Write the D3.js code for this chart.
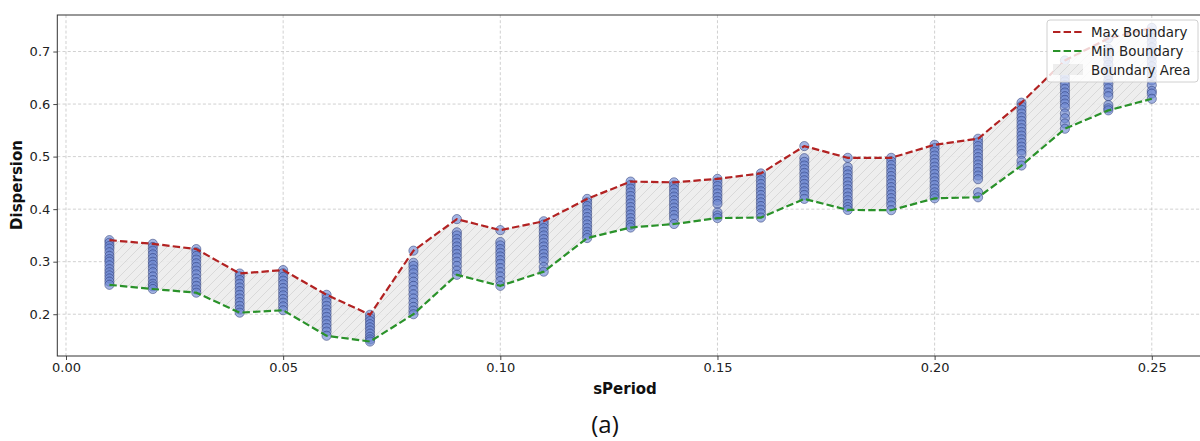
<!DOCTYPE html>
<html>
<head>
<meta charset="utf-8">
<script src="https://cdn.jsdelivr.net/npm/d3@7/dist/d3.min.js"></script>
<style>
  html, body { margin: 0; padding: 0; background: #fff; }
  svg { display: block; font-family: "DejaVu Sans", sans-serif; }
</style>
</head>
<body>
<svg id="chart" width="1200" height="441"></svg>
<script>
// ---- data ----
const periods = [0.01,0.02,0.03,0.04,0.05,0.06,0.07,0.08,0.09,0.10,0.11,0.12,0.13,0.14,0.15,0.16,0.17,0.18,0.19,0.20,0.21,0.22,0.23,0.24,0.25];
const dispersionSamples = [
  [0.341,0.336,0.330,0.325,0.318,0.311,0.305,0.300,0.293,0.286,0.280,0.274,0.268,0.262,0.256],
  [0.334,0.328,0.321,0.314,0.307,0.300,0.294,0.287,0.280,0.272,0.265,0.258,0.253,0.248],
  [0.324,0.318,0.311,0.304,0.297,0.290,0.283,0.276,0.268,0.261,0.254,0.247,0.241],
  [0.2775,0.272,0.265,0.258,0.251,0.244,0.237,0.230,0.223,0.216,0.209,0.203],
  [0.284,0.278,0.271,0.264,0.257,0.250,0.243,0.236,0.229,0.222,0.215,0.2076],
  [0.237,0.230,0.223,0.216,0.209,0.202,0.195,0.188,0.181,0.174,0.167,0.159],
  [0.199,0.193,0.187,0.181,0.175,0.169,0.163,0.157,0.152,0.148],
  [0.321,0.298,0.292,0.285,0.278,0.270,0.262,0.254,0.246,0.238,0.230,0.222,0.214,0.207,0.200],
  [0.381,0.356,0.350,0.343,0.336,0.329,0.322,0.315,0.308,0.300,0.292,0.283,0.275],
  [0.360,0.3375,0.331,0.324,0.317,0.310,0.303,0.296,0.288,0.280,0.272,0.263,0.254],
  [0.377,0.371,0.364,0.357,0.350,0.343,0.336,0.329,0.322,0.315,0.308,0.301,0.290,0.281],
  [0.4195,0.413,0.406,0.399,0.392,0.385,0.378,0.371,0.364,0.357,0.351,0.345],
  [0.4525,0.446,0.439,0.432,0.425,0.418,0.411,0.404,0.397,0.390,0.383,0.376,0.370,0.365],
  [0.451,0.445,0.438,0.431,0.424,0.417,0.410,0.403,0.396,0.389,0.382,0.3717],
  [0.4576,0.451,0.444,0.437,0.430,0.423,0.416,0.410,0.394,0.388,0.383],
  [0.468,0.462,0.455,0.448,0.441,0.434,0.427,0.420,0.413,0.406,0.399,0.392,0.384],
  [0.520,0.497,0.490,0.483,0.476,0.469,0.462,0.455,0.448,0.441,0.434,0.427,0.4195],
  [0.4977,0.480,0.473,0.466,0.459,0.452,0.445,0.438,0.431,0.424,0.417,0.410,0.404,0.3985],
  [0.4977,0.491,0.484,0.477,0.470,0.463,0.456,0.449,0.442,0.435,0.428,0.421,0.414,0.407,0.398],
  [0.5225,0.516,0.509,0.502,0.495,0.488,0.481,0.474,0.467,0.460,0.453,0.446,0.439,0.432,0.426,0.4206],
  [0.534,0.527,0.520,0.513,0.506,0.499,0.492,0.485,0.478,0.471,0.464,0.457,0.432,0.4225],
  [0.6027,0.596,0.589,0.582,0.575,0.568,0.561,0.554,0.547,0.540,0.533,0.526,0.519,0.512,0.505,0.492,0.483],
  [0.683,0.664,0.657,0.650,0.643,0.636,0.629,0.622,0.615,0.608,0.601,0.594,0.582,0.573,0.563,0.553],
  [0.725,0.705,0.695,0.685,0.675,0.665,0.655,0.645,0.638,0.630,0.622,0.615,0.598,0.592,0.588],
  [0.745,0.735,0.726,0.717,0.708,0.699,0.690,0.681,0.672,0.663,0.654,0.645,0.636,0.625,0.620,0.610]
];
const xTicks = [0.00,0.05,0.10,0.15,0.20,0.25];
const yTicks = [0.2,0.3,0.4,0.5,0.6,0.7];
const legendLabels = ["Max Boundary","Min Boundary","Boundary Area"];

// ---- derived ----
const maxBoundary = dispersionSamples.map(s => d3.max(s));
const minBoundary = dispersionSamples.map(s => d3.min(s));
const bounds = periods.map((p, i) => ({p, max: maxBoundary[i], min: minBoundary[i]}));
const points = periods.flatMap((p, i) => dispersionSamples[i].map(v => ({p, v})));

// ---- layout ----
const svg = d3.select("#chart");
const L = 57.3, R = 1203.9, T = 15, B = 356;
const x = d3.scaleLinear().domain([-0.002, 0.262]).range([L, R]);
const y = d3.scaleLinear().domain([0.1205, 0.7695]).range([B, T]);

const defs = svg.append("defs");
defs.append("clipPath").attr("id","clip").append("rect")
  .attr("x", L).attr("y", T).attr("width", R - L).attr("height", B - T);
const pat = defs.append("pattern").attr("id","hatch").attr("patternUnits","userSpaceOnUse")
  .attr("width", 9).attr("height", 9);
pat.append("rect").attr("width",9).attr("height",9).attr("fill","#ececec");
pat.append("path").attr("d","M-1,10 L10,-1 M-2,2 L2,-2 M7,11 L11,7")
  .attr("stroke","#d2d2d2").attr("stroke-width",0.9);

// grid
const grid = svg.append("g").attr("clip-path","url(#clip)");
grid.selectAll(".gx").data(xTicks).join("line")
  .attr("x1", d => x(d)).attr("x2", d => x(d)).attr("y1", T).attr("y2", B)
  .attr("stroke","#c4c4c4").attr("stroke-width",0.8).attr("stroke-dasharray","3,2.2");
grid.selectAll(".gy").data(yTicks).join("line")
  .attr("y1", d => y(d)).attr("y2", d => y(d)).attr("x1", L).attr("x2", R)
  .attr("stroke","#c4c4c4").attr("stroke-width",0.8).attr("stroke-dasharray","3,2.2");

const plot = svg.append("g").attr("clip-path","url(#clip)");
// area
plot.append("path").datum(bounds)
  .attr("d", d3.area().x(d => x(d.p)).y0(d => y(d.min)).y1(d => y(d.max)))
  .attr("fill","url(#hatch)").attr("opacity",0.9);

// points
plot.selectAll("circle").data(points).join("circle")
  .attr("cx", d => x(d.p)).attr("cy", d => y(d.v)).attr("r", 4.6)
  .attr("fill","#6a86d2").attr("fill-opacity",0.62)
  .attr("stroke","#22306c").attr("stroke-opacity",0.55).attr("stroke-width",0.9);

// lines
plot.append("path").datum(bounds)
  .attr("d", d3.line().x(d => x(d.p)).y(d => y(d.max)))
  .attr("fill","none").attr("stroke","#b22222").attr("stroke-width",2.2).attr("stroke-dasharray","7.4,3.2");
plot.append("path").datum(bounds)
  .attr("d", d3.line().x(d => x(d.p)).y(d => y(d.min)))
  .attr("fill","none").attr("stroke","#2a922a").attr("stroke-width",2.2).attr("stroke-dasharray","7.4,3.2");

// axes
const xAxis = svg.append("g").attr("transform",`translate(0,${B})`)
  .call(d3.axisBottom(x).tickValues(xTicks).tickFormat(d3.format(".2f")).tickSize(4).tickPadding(3));
const yAxis = svg.append("g").attr("transform",`translate(${L},0)`)
  .call(d3.axisLeft(y).tickValues(yTicks).tickFormat(d3.format(".1f")).tickSize(4).tickPadding(3));
[xAxis, yAxis].forEach(a => {
  a.selectAll("text").attr("font-size", 13).attr("fill","#222").attr("font-family","DejaVu Sans");
  a.selectAll(".tick line").attr("stroke","#333").attr("stroke-width",0.9);
  a.select(".domain").remove();
});
// spines
svg.append("rect").attr("x", L).attr("y", T).attr("width", R - L).attr("height", B - T)
  .attr("fill","none").attr("stroke","#333").attr("stroke-width",1);

// labels
svg.append("text").attr("x", 625).attr("y", 394).attr("text-anchor","middle")
  .attr("font-size", 15).attr("font-weight","bold").attr("fill","#111").text("sPeriod");
svg.append("text").attr("transform","translate(22,185) rotate(-90)").attr("text-anchor","middle")
  .attr("font-size", 15).attr("font-weight","bold").attr("fill","#111").text("Dispersion");
svg.append("text").attr("x", 605).attr("y", 433).attr("text-anchor","middle")
  .attr("font-size", 24).attr("font-family","'Open Sans', 'Noto Sans', sans-serif").attr("fill","#111").text("(a)");

// legend
const lg = svg.append("g");
lg.append("rect").attr("x",1047).attr("y",20).attr("width",151).attr("height",62).attr("rx",3)
  .attr("fill","#fff").attr("fill-opacity",0.8).attr("stroke","#d0d0d0").attr("stroke-width",1);
const rows = [32, 51, 70];
lg.append("line").attr("x1",1053).attr("x2",1083).attr("y1",rows[0]).attr("y2",rows[0])
  .attr("stroke","#b22222").attr("stroke-width",2.2).attr("stroke-dasharray","7.4,3.2");
lg.append("line").attr("x1",1053).attr("x2",1083).attr("y1",rows[1]).attr("y2",rows[1])
  .attr("stroke","#2a922a").attr("stroke-width",2.2).attr("stroke-dasharray","7.4,3.2");
lg.append("rect").attr("x",1053).attr("y",rows[2]-6).attr("width",30).attr("height",11)
  .attr("fill","url(#hatch)").attr("opacity",0.9);
lg.selectAll(".lt").data(legendLabels).join("text")
  .attr("x",1091).attr("y",(d,i) => rows[i] + 4.5).attr("font-size",13.4).attr("fill","#222").text(d => d);
</script>
</body>
</html>
